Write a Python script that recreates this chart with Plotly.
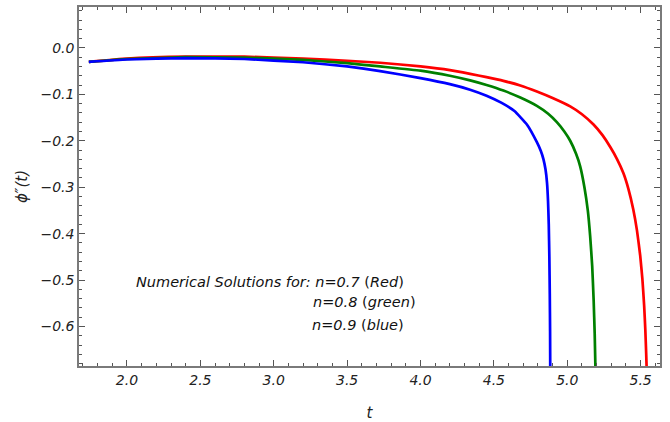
import plotly.graph_objects as go

t_blue = [1.74, 2.0, 2.4, 2.8, 3.2, 3.5, 3.725, 4.0, 4.2, 4.338, 4.45, 4.55, 4.64, 4.725, 4.793, 4.82, 4.838, 4.852, 4.862, 4.869, 4.874, 4.878, 4.881, 4.883, 4.884]
v_blue = [-0.030, -0.025, -0.022, -0.024, -0.031, -0.040, -0.050, -0.065, -0.078, -0.090, -0.103, -0.118, -0.136, -0.165, -0.203, -0.222, -0.240, -0.262, -0.290, -0.330, -0.380, -0.450, -0.530, -0.610, -0.690]

t_green = [1.74, 2.0, 2.4, 2.8, 3.2, 3.5, 3.725, 4.0, 4.2, 4.338, 4.45, 4.565, 4.68, 4.793, 4.87, 4.929, 4.98, 5.02, 5.06, 5.088, 5.117, 5.14, 5.156, 5.17, 5.18, 5.187, 5.192]
v_green = [-0.030, -0.024, -0.020, -0.021, -0.026, -0.033, -0.040, -0.049, -0.060, -0.070, -0.080, -0.092, -0.107, -0.125, -0.142, -0.160, -0.180, -0.200, -0.228, -0.255, -0.300, -0.350, -0.405, -0.470, -0.545, -0.615, -0.690]

t_red = [1.74, 2.0, 2.4, 2.8, 3.2, 3.5, 3.725, 4.0, 4.2, 4.338, 4.45, 4.565, 4.68, 4.793, 4.9, 5.02, 5.1, 5.179, 5.24, 5.292, 5.34, 5.383, 5.417, 5.45, 5.475, 5.497, 5.512, 5.524, 5.532, 5.538, 5.541]
v_red = [-0.030, -0.023, -0.019, -0.019, -0.023, -0.028, -0.032, -0.040, -0.048, -0.056, -0.063, -0.071, -0.081, -0.094, -0.108, -0.126, -0.143, -0.165, -0.188, -0.213, -0.240, -0.270, -0.304, -0.348, -0.393, -0.447, -0.498, -0.555, -0.607, -0.660, -0.690]

tick_x = [2.0, 2.5, 3.0, 3.5, 4.0, 4.5, 5.0, 5.5]
tick_x_text = ["2.0", "2.5", "3.0", "3.5", "4.0", "4.5", "5.0", "5.5"]
tick_y = [0.0, -0.1, -0.2, -0.3, -0.4, -0.5, -0.6]
tick_y_text = ["0.0", "\u22120.1", "\u22120.2", "\u22120.3", "\u22120.4", "\u22120.5", "\u22120.6"]

fig = go.Figure()
for t, v, c in [(t_red, v_red, "#ff0000"), (t_green, v_green, "#008000"), (t_blue, v_blue, "#0000ff")]:
    fig.add_trace(go.Scatter(x=t, y=v, mode="lines", line=dict(color=c, width=2.7, shape="spline", smoothing=0.4),
                             showlegend=False, hoverinfo="skip"))

axis_common = dict(showgrid=False, zeroline=False, showline=True, linecolor="#7a7a7a", linewidth=1.5,
                   mirror="ticks", ticks="inside", ticklen=6, tickwidth=1, tickcolor="#555",
                   tickfont=dict(family="DejaVu Sans", size=14, color="#222"))
fig.update_xaxes(range=[1.673, 5.632], tickvals=tick_x,
                 ticktext=["<i>%s</i>" % s for s in tick_x_text],
                 minor=dict(dtick=0.1, tick0=0, ticks="inside", ticklen=3, tickcolor="#555"),
                 title=dict(text="<i>t</i>", font=dict(family="DejaVu Sans", size=15, color="#222"), standoff=26),
                 **axis_common)
fig.update_yaxes(range=[-0.685, 0.088], tickvals=tick_y,
                 ticktext=["<i>%s</i>" % s for s in tick_y_text],
                 minor=dict(dtick=0.02, tick0=0, ticks="inside", ticklen=3, tickcolor="#555"),
                 title=dict(text="<i>\u03d5\u2033(t)</i>", font=dict(family="DejaVu Sans", size=15, color="#222"), standoff=9),
                 **axis_common)

ann = [
    (2.045, -0.504, "<i>Numerical Solutions for: n=0.7 </i>(<i>Red</i>)"),
    (3.254, -0.547, "<i>n=0.8 </i>(<i>green</i>)"),
    (3.247, -0.597, "<i>n=0.9 </i>(<i>blue</i>)"),
]
for x, y, txt in ann:
    fig.add_annotation(x=x, y=y, text=txt, showarrow=False, xanchor="left", yanchor="middle",
                       font=dict(family="DejaVu Sans", size=14.5, color="#111"))

fig.update_layout(width=670, height=422, plot_bgcolor="white", paper_bgcolor="white",
                  margin=dict(l=79, r=10, t=7, b=56, autoexpand=False),
                  font=dict(family="DejaVu Sans", size=14, color="#222"))
fig.write_html("out.html", config={"displayModeBar": False},
               post_script="document.body.style.margin='0';")
